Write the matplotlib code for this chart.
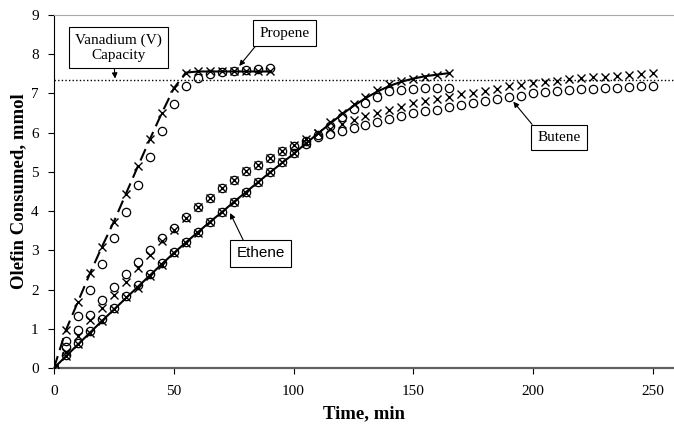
import numpy as np
import matplotlib
matplotlib.use("Agg")
import matplotlib.pyplot as plt

plt.rcParams['font.family'] = ['Liberation Serif', 'DejaVu Serif']

# time grids (min), samples every 5 min
t_propene = np.arange(0, 91, 5)
t_ethene = np.arange(0, 166, 5)
t_butene = np.arange(0, 251, 5)

# Propene (mmol)
propene_x = [0, 0.97, 1.69, 2.41, 3.09, 3.73, 4.44, 5.14, 5.83, 6.50, 7.13, 7.53,
             7.56, 7.56, 7.56, 7.56, 7.56, 7.56, 7.56]
propene_o = [0, 0.70, 1.33, 1.99, 2.65, 3.31, 3.97, 4.67, 5.37, 6.05, 6.73, 7.19,
             7.39, 7.50, 7.54, 7.58, 7.60, 7.63, 7.65]

# Ethene (mmol) + fitted curve
ethene_fit = [0, 0.30, 0.60, 0.90, 1.20, 1.49, 1.78, 2.07, 2.36, 2.65,
              2.93, 3.20, 3.46, 3.72, 3.97, 4.23, 4.48, 4.73, 4.98, 5.22,
              5.46, 5.72, 5.97, 6.22, 6.46, 6.68, 6.88, 7.05, 7.19, 7.30,
              7.38, 7.44, 7.48, 7.52]
ethene_x = [0, 0.30, 0.62, 0.90, 1.20, 1.50, 1.80, 2.05, 2.35, 2.63,
            2.92, 3.18, 3.45, 3.72, 3.98, 4.22, 4.47, 4.74, 5.00, 5.24,
            5.48, 5.73, 6.00, 6.26, 6.50, 6.72, 6.92, 7.09, 7.24, 7.32,
            7.37, 7.42, 7.47, 7.52]
ethene_o = [0, 0.33, 0.63, 0.95, 1.25, 1.54, 1.84, 2.12, 2.40, 2.68,
            2.95, 3.20, 3.47, 3.73, 3.98, 4.24, 4.48, 4.74, 4.99, 5.24,
            5.48, 5.70, 5.93, 6.18, 6.40, 6.60, 6.76, 6.92, 7.05, 7.09,
            7.12, 7.13, 7.13, 7.14]

# Butene (mmol)
butene_x = [0, 0.42, 0.82, 1.22, 1.52, 1.86, 2.20, 2.54, 2.88, 3.24,
            3.53, 3.82, 4.10, 4.34, 4.58, 4.80, 5.01, 5.18, 5.35, 5.52,
            5.69, 5.85, 5.98, 6.10, 6.22, 6.33, 6.43, 6.50, 6.57, 6.65,
            6.75, 6.82, 6.85, 6.92, 6.99, 7.02, 7.07, 7.12, 7.18, 7.22,
            7.26, 7.30, 7.33, 7.36, 7.39, 7.42, 7.43, 7.45, 7.47, 7.49, 7.52]
butene_o = [0, 0.54, 0.97, 1.35, 1.73, 2.07, 2.40, 2.71, 3.00, 3.31,
            3.57, 3.84, 4.10, 4.34, 4.58, 4.80, 5.01, 5.18, 5.35, 5.52,
            5.67, 5.80, 5.88, 5.96, 6.04, 6.12, 6.20, 6.27, 6.35, 6.42,
            6.50, 6.54, 6.58, 6.65, 6.71, 6.75, 6.82, 6.86, 6.91, 6.94,
            7.01, 7.03, 7.07, 7.09, 7.11, 7.12, 7.13, 7.15, 7.16, 7.18, 7.19]

vanadium_capacity = 7.35

fig = plt.figure(figsize=(6.74, 4.25), dpi=100)
ax = fig.add_axes([54 / 674, 57 / 425, 620 / 674, 353 / 425])

# capacity line
ax.axhline(vanadium_capacity, color='black', lw=1.0, ls=(0, (1, 1.6)), zorder=1)

# propene fit: dashed rise, solid plateau
ax.plot(t_propene[:12], propene_x[:12], color='black', lw=1.5, ls=(0, (6, 3)), zorder=2)
ax.plot(t_propene[11:], propene_x[11:], color='black', lw=1.5, zorder=2)
# ethene fit
ax.plot(t_ethene, ethene_fit, color='black', lw=1.5, zorder=2)

xkw = dict(ls='none', marker='x', ms=6, mew=1.0, color='black', zorder=3)
okw = dict(ls='none', marker='o', ms=6, mfc='none', mec='black', mew=0.9, zorder=3)
ax.plot(t_propene, propene_x, **xkw)
ax.plot(t_propene, propene_o, **okw)
ax.plot(t_ethene, ethene_x, **xkw)
ax.plot(t_ethene, ethene_o, **okw)
ax.plot(t_butene, butene_x, **xkw)
ax.plot(t_butene, butene_o, **okw)

ax.set_xlim(0, 620 / 2.396)
ax.set_ylim(0, 9)
ax.set_xticks(range(0, 251, 50))
ax.set_yticks(range(0, 10))
ax.tick_params(axis='x', direction='out', length=4, width=0.8, labelsize=11, pad=8)
ax.tick_params(axis='y', direction='out', length=4, width=0.8, labelsize=11, pad=7)

ax.spines['right'].set_visible(False)
ax.spines['left'].set_color('black')
ax.spines['left'].set_linewidth(0.8)
ax.spines['bottom'].set_color('#606060')
ax.spines['bottom'].set_linewidth(1.6)
ax.spines['top'].set_color('#a8a8a8')
ax.spines['top'].set_linewidth(0.8)

fig.text(364 / 674, 11 / 425, 'Time, min', ha='center', va='center',
         fontsize=13.5, fontweight='bold')
fig.text(19 / 674, (425 - 191) / 425, 'Olefin Consumed, mmol', ha='center', va='center',
         rotation=90, fontsize=13.5, fontweight='bold')

box = dict(boxstyle='square,pad=0.4', fc='white', ec='black', lw=0.8)

def arrow(rel):
    return dict(arrowstyle='-|>', color='black', lw=0.8, mutation_scale=8,
                shrinkA=0, shrinkB=0, relpos=rel)

ax.annotate('Vanadium (V)\nCapacity', xy=(25.5, 7.38), xytext=(26.8, 8.16),
            ha='center', va='center', multialignment='center', linespacing=1.2,
            fontsize=11, bbox=box, arrowprops=arrow((0.45, 0.0)), zorder=5)
ax.annotate('Propene', xy=(77.3, 7.70), xytext=(96.2, 8.54),
            ha='center', va='center', fontsize=11, bbox=box,
            arrowprops=arrow((0.03, 0.0)), zorder=5)
ax.annotate('Ethene', xy=(73.5, 3.95), xytext=(86.3, 2.92),
            ha='center', va='center', fontsize=11, family=['Liberation Sans'],
            bbox=box, arrowprops=arrow((0.2, 1.0)), zorder=5)
ax.annotate('Butene', xy=(191.7, 6.79), xytext=(210.8, 5.88),
            ha='center', va='center', fontsize=11, bbox=box,
            arrowprops=arrow((0.0, 1.0)), zorder=5)

fig.savefig('out.png', dpi=100)
